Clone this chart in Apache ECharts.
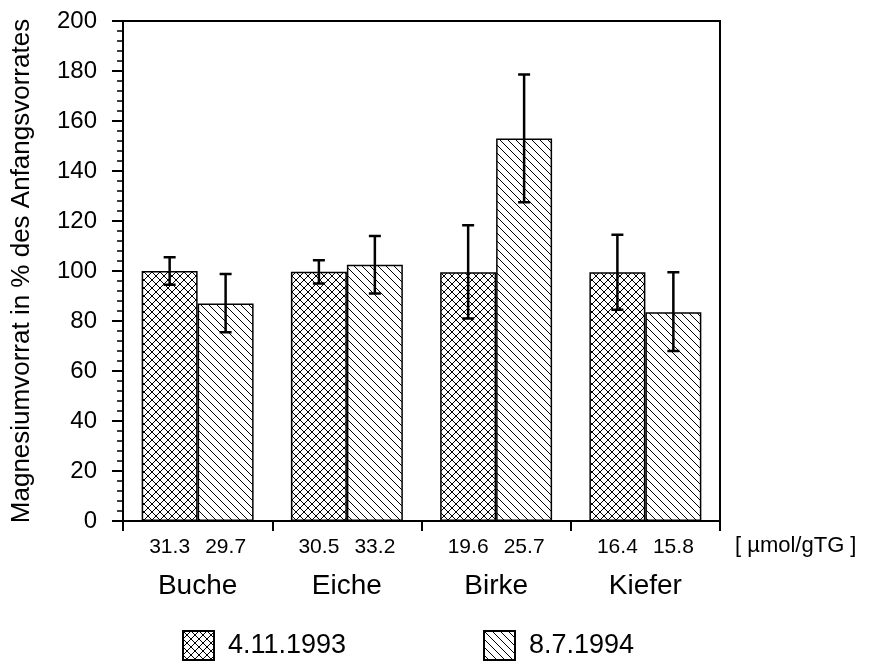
<!DOCTYPE html>
<html>
<head>
<meta charset="utf-8">
<script src="https://cdn.jsdelivr.net/npm/echarts@6/dist/echarts.min.js"></script>
<style>html,body{margin:0;padding:0;background:#fff}#c{width:869px;height:661px}</style>
</head>
<body>
<div id="c"></div>
<script>
const categories = ['Buche', 'Eiche', 'Birke', 'Kiefer'];
const seriesNames = ['4.11.1993', '8.7.1994'];
const values1993 = [100, 99.7, 99.5, 99.5];
const values1994 = [87, 102.5, 153, 83.5];
const errLow1993 = [94.5, 95, 81, 84.5];
const errHigh1993 = [105.5, 104.3, 118.3, 114.5];
const errLow1994 = [75.5, 91, 127.5, 68];
const errHigh1994 = [98.8, 114, 178.6, 99.5];
const umol1993 = ['31.3', '30.5', '19.6', '16.4'];
const umol1994 = ['29.7', '33.2', '25.7', '15.8'];
const yTicks = { min: 0, max: 200, interval: 20 };
const unitLabel = '[ µmol/gTG ]';
const yName = 'Magnesiumvorrat in % des Anfangsvorrates';

function makeCross() {
  const c = document.createElement('canvas');
  c.width = 8; c.height = 8;
  const g = c.getContext('2d');
  g.fillStyle = '#fff'; g.fillRect(0, 0, 8, 8);
  g.strokeStyle = '#000'; g.lineWidth = 1;
  g.beginPath();
  g.moveTo(0, 0); g.lineTo(8, 8);
  g.moveTo(8, 0); g.lineTo(0, 8);
  g.stroke();
  return c;
}
function makeDiag() {
  const c = document.createElement('canvas');
  c.width = 8; c.height = 8;
  const g = c.getContext('2d');
  g.fillStyle = '#fff'; g.fillRect(0, 0, 8, 8);
  g.strokeStyle = '#000'; g.lineWidth = 1;
  g.beginPath();
  g.moveTo(-1, -1); g.lineTo(9, 9);
  g.moveTo(-1, 7); g.lineTo(1, 9);
  g.moveTo(7, -1); g.lineTo(9, 1);
  g.stroke();
  return c;
}
const crossPat = { image: makeCross(), repeat: 'repeat' };
const diagPat = { image: makeDiag(), repeat: 'repeat' };

const BAR_FRAC = 0.375;
function errRender(side) {
  return function (params, api) {
    const idx = api.value(0);
    const lo = api.coord([idx, api.value(1)]);
    const hi = api.coord([idx, api.value(2)]);
    const catW = api.size([1, 0])[0];
    const bw = catW * BAR_FRAC;
    const x = lo[0] + side * bw / 2;
    const cap = 6;
    const st = { stroke: '#000', lineWidth: 2.5 };
    return {
      type: 'group',
      children: [
        { type: 'line', shape: { x1: x, y1: hi[1], x2: x, y2: lo[1] }, style: st },
        { type: 'line', shape: { x1: x - cap, y1: hi[1], x2: x + cap, y2: hi[1] }, style: st },
        { type: 'line', shape: { x1: x - cap, y1: lo[1], x2: x + cap, y2: lo[1] }, style: st }
      ]
    };
  };
}

const font = 'Liberation Sans, Arial, Helvetica, sans-serif';
const legendText = { fontSize: 27, fontFamily: font, color: '#000', padding: [3, 0, 0, 9] };
const chart = echarts.init(document.getElementById('c'), null, { renderer: 'canvas' });
chart.setOption({
  backgroundColor: '#fff',
  animation: false,
  textStyle: { fontFamily: font, color: '#000' },
  grid: { left: 123, right: 149, top: 21, bottom: 140, show: true, borderColor: '#000', borderWidth: 2, backgroundColor: 'transparent' },
  legend: [
    { data: [seriesNames[0]], left: 182, top: 630, padding: 0, itemWidth: 31, itemHeight: 29, icon: 'rect', textStyle: legendText },
    { data: [seriesNames[1]], left: 483, top: 630, padding: 0, itemWidth: 31, itemHeight: 29, icon: 'rect', textStyle: legendText }
  ],
  xAxis: {
    type: 'category',
    data: categories,
    name: unitLabel,
    nameLocation: 'end',
    nameGap: 15,
    nameTextStyle: { fontSize: 22, fontFamily: font, color: '#000', verticalAlign: 'top', padding: [14, 0, 0, 0] },
    axisLine: { lineStyle: { color: '#000', width: 2 } },
    axisTick: { show: true, length: 10, lineStyle: { color: '#000', width: 2 } },
    axisLabel: {
      margin: 14,
      verticalAlign: 'top',
      formatter: function (v, i) {
        return '{n|' + umol1993[i] + '}{n|' + umol1994[i] + '}\n{c|' + v + '}';
      },
      rich: {
        n: { fontSize: 21, fontFamily: font, color: '#000', width: 56, align: 'center', lineHeight: 24 },
        c: { fontSize: 28, fontFamily: font, color: '#000', lineHeight: 54 }
      }
    },
    splitLine: { show: false }
  },
  yAxis: {
    type: 'value',
    min: yTicks.min, max: yTicks.max, interval: yTicks.interval,
    name: yName,
    nameLocation: 'middle',
    nameRotate: 90,
    nameGap: 88,
    nameTextStyle: { fontSize: 26, fontFamily: font, color: '#000' },
    axisLine: { show: true, lineStyle: { color: '#000', width: 2 } },
    axisTick: { show: true, length: 11, lineStyle: { color: '#000', width: 2 } },
    minorTick: { show: true, splitNumber: 5, length: 6, lineStyle: { color: '#000', width: 1.5 } },
    axisLabel: { fontSize: 24, fontFamily: font, color: '#000', margin: 26 },
    splitLine: { show: false }
  },
  series: [
    { name: seriesNames[0], type: 'bar', data: values1993, barWidth: '37.5%', barGap: '0%',
      itemStyle: { color: crossPat, borderColor: '#000', borderWidth: 1.5 } },
    { name: seriesNames[1], type: 'bar', data: values1994, barWidth: '37.5%', barGap: '0%',
      itemStyle: { color: diagPat, borderColor: '#000', borderWidth: 1.5 } },
    { type: 'custom', renderItem: errRender(-1), z: 5,
      data: categories.map((c, i) => [i, errLow1993[i], errHigh1993[i]]) },
    { type: 'custom', renderItem: errRender(1), z: 5,
      data: categories.map((c, i) => [i, errLow1994[i], errHigh1994[i]]) }
  ]
});
</script>
</body>
</html>
